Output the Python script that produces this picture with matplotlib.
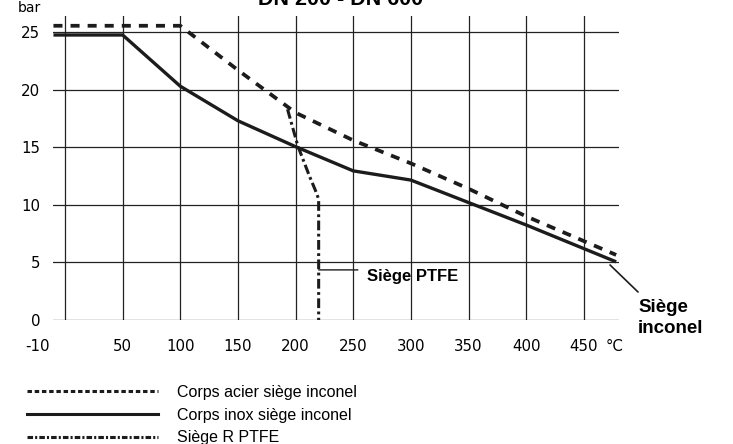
import matplotlib
matplotlib.use('Agg')
import matplotlib.pyplot as plt
from matplotlib.lines import Line2D

plt.rcParams['lines.scale_dashes'] = False

# Data (temperature in °C, pressure in bar)
acier_t = [-10, 100, 150, 200, 250, 300, 350, 400, 478]
acier_p = [25.55, 25.55, 21.7, 18.0, 15.6, 13.6, 11.4, 9.0, 5.65]

inox_t = [-10, 50, 100, 150, 200, 250, 300, 350, 400, 478]
inox_p = [24.75, 24.75, 20.3, 17.3, 15.05, 12.95, 12.15, 10.2, 8.25, 5.05]

ptfe_t = [193, 202, 212, 217, 220, 220]
ptfe_p = [18.3, 15.1, 12.5, 11.3, 10.5, 0]

x_ticks = [0, 50, 100, 150, 200, 250, 300, 350, 400, 450]
x_labels = ['', '50', '100', '150', '200', '250', '300', '350', '400', '450']
y_ticks = [0, 5, 10, 15, 20, 25]

ink = '#1c1c1c'
tick_font = 'DejaVu Sans'
text_font = 'Liberation Sans'

fig = plt.figure(figsize=(7.33, 4.44), dpi=100)
ax = fig.add_axes([0.0723, 0.2793, 0.7722, 0.6847])

ax.plot(acier_t, acier_p, color=ink, lw=2.7, linestyle=(0, (6.5, 5.8)),
        solid_capstyle='butt')
ax.plot(inox_t, inox_p, color=ink, lw=2.4, solid_capstyle='butt')
ax.plot(ptfe_t, ptfe_p, color=ink, lw=2.2, linestyle=(0, (7, 2.5, 2, 2.5)))

ax.set_xlim(-10.4, 480.5)
ax.set_ylim(0, 26.4)
ax.set_xticks(x_ticks)
ax.set_xticklabels(x_labels, fontfamily=tick_font, fontsize=10.8)
ax.set_yticks(y_ticks)
ax.set_yticklabels([str(v) for v in y_ticks], fontfamily=tick_font, fontsize=10.8)
ax.tick_params(axis='x', length=0, pad=14)
ax.tick_params(axis='y', length=0, pad=9)
ax.grid(True, color='#222222', lw=0.9)
ax.set_axisbelow(True)
for s in ax.spines.values():
    s.set_visible(False)

# extra axis texts
ax.annotate('-10', xy=(-24, 0), xytext=(0, -14), textcoords='offset points',
            ha='center', va='top', fontfamily=tick_font, fontsize=10.8,
            annotation_clip=False)
ax.annotate('°C', xy=(469, 0), xytext=(0, -14), textcoords='offset points',
            ha='left', va='top', fontfamily=tick_font, fontsize=10.8,
            annotation_clip=False)
fig.text(29 / 733, 1 - 8 / 444, 'bar', ha='center', va='center',
         fontfamily=tick_font, fontsize=10)
fig.text(341 / 733, 1 - 5 / 444, 'DN 200 - DN 600', ha='center', va='baseline',
         fontfamily=text_font, fontweight='bold', fontsize=15.5)

# callouts
ax.annotate('', xy=(220, 4.35), xytext=(254, 4.35),
            arrowprops=dict(arrowstyle='-', color=ink, lw=1.0,
                            shrinkA=0, shrinkB=0))
ax.text(262, 3.75, 'Siège PTFE', ha='left', va='center', fontfamily=text_font,
        fontweight='bold', fontsize=12)
ax.annotate('', xy=(472.7, 4.78), xytext=(497, 2.43),
            arrowprops=dict(arrowstyle='-', color=ink, lw=1.2,
                            shrinkA=0, shrinkB=0), annotation_clip=False)
ax.text(497, 0.2, 'Siège\ninconel', ha='left', va='center', fontfamily=text_font,
        fontweight='bold', fontsize=13.5, linespacing=1.3, clip_on=False)

# legend
handles = [
    Line2D([], [], color=ink, lw=2.2, linestyle=(0, (3.2, 2.0))),
    Line2D([], [], color=ink, lw=2.2),
    Line2D([], [], color=ink, lw=2.2, linestyle=(0, (4, 1.5, 1.5, 1.5))),
]
labels = ['Corps acier siège inconel', 'Corps inox siège inconel', 'Siège R PTFE']
fig.legend(handles, labels, loc='upper left', bbox_to_anchor=(27 / 733, 1 - 385 / 444),
           frameon=False, handlelength=8.2, handletextpad=1.2, labelspacing=0.48,
           borderpad=0, borderaxespad=0,
           prop={'family': text_font, 'size': 11.5})

fig.savefig('out.png', dpi=100)
